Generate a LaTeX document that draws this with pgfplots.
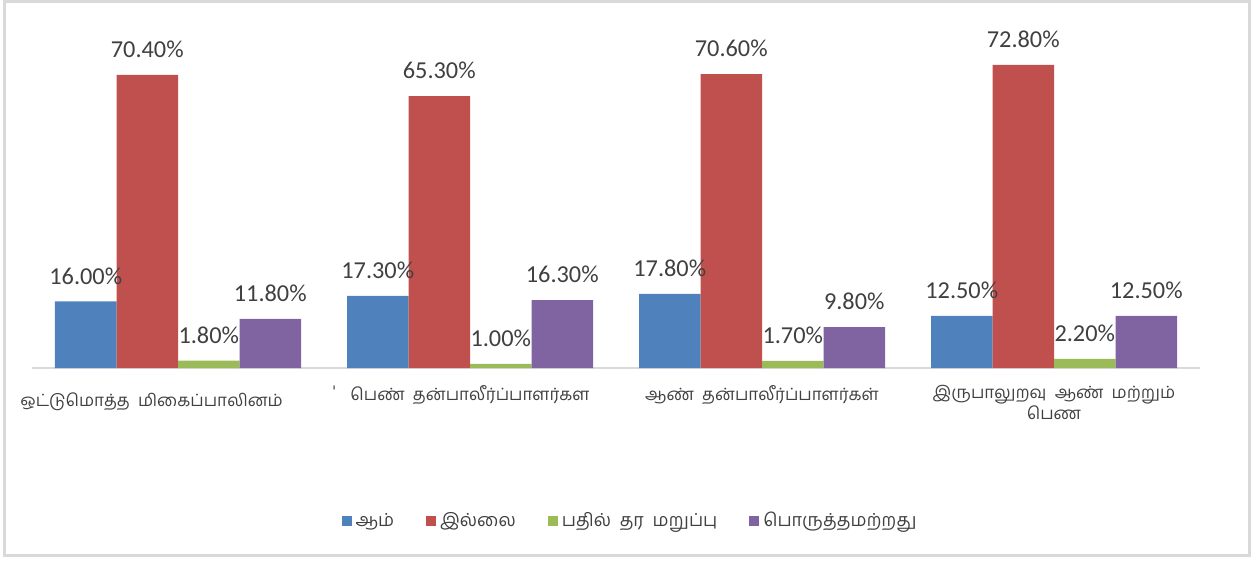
\documentclass[border=0pt]{standalone}
\usepackage{pgfplots}
\pgfplotsset{compat=1.18}
\usepackage{fontspec}
\setmainfont{Carlito}
\newfontfamily\tamil[Script=Tamil]{Hind Madurai}

\definecolor{cblue}{HTML}{4F81BD}
\definecolor{cred}{HTML}{C0504D}
\definecolor{cgreen}{HTML}{9BBB59}
\definecolor{cpurple}{HTML}{8064A2}
\definecolor{txt}{HTML}{404040}
\definecolor{frame}{HTML}{D9D9D9}

\begin{document}
\begin{tikzpicture}
% canvas and outer frame (1px = 0.5bp, origin at axis lower left)
\path (-16bp,-96.5bp) rectangle (613.5bp,184bp);
\draw[frame, line width=1.2bp] (-13.75bp,-93.75bp) rectangle (608.75bp,183.25bp);
\begin{axis}[
    at={(0,0)}, anchor=south west,
    scale only axis,
    width=584bp, height=166.5bp,
    ybar=0pt,
    bar width=30.75bp,
    xmin=-0.5, xmax=3.5,
    ymin=0, ymax=80,
    axis y line=none,
    axis x line*=bottom,
    x axis line style={frame, line width=1bp, -},
    xtick={0,1,2,3},
    xtick style={draw=none},
    xticklabels={%
        {ஒட்டுமொத்த\ \ மிகைப்பாலினம்\hspace{25bp}\raisebox{4.5bp}{'}},
        {பெண்\ \ தன்பாலீர்ப்பாளர்கள},
        {ஆண்\ \ தன்பாலீர்ப்பாளர்கள்},
        {இருபாலுறவு\ \ ஆண்\ \ மற்றும்\\பெண}},
    xticklabel style={font=\tamil\fontsize{8.5}{10.5}\selectfont, text=txt, align=center, yshift=-1bp},
    /pgf/number format/assume math mode=true,
    nodes near coords={\pgfmathprintnumber[fixed,fixed zerofill,precision=2]{\pgfplotspointmeta}\%},
    nodes near coords style={font=\fontsize{12.2}{13}\selectfont, text=txt, anchor=south, yshift=5bp},
    legend style={at={(299.5bp,-76.5bp)}, anchor=center, draw=none,
        font=\tamil\fontsize{9}{10}\selectfont, text=txt,
        legend columns=4, /tikz/every even column/.append style={column sep=14bp}},
    legend image code/.code={\fill[#1] (0bp,-2.5bp) rectangle (5bp,2.5bp);},
]
\addplot[fill=cblue, draw=none] coordinates {(0,16.0) (1,17.3) (2,17.8) (3,12.5)};
\addplot[fill=cred, draw=none] coordinates {(0,70.4) (1,65.3) (2,70.6) (3,72.8)};
\addplot[fill=cgreen, draw=none] coordinates {(0,1.8) (1,1.0) (2,1.7) (3,2.2)};
\addplot[fill=cpurple, draw=none] coordinates {(0,11.8) (1,16.3) (2,9.8) (3,12.5)};
\legend{ஆம், இல்லை, பதில்\ \ தர\ \ மறுப்பு, பொருத்தமற்றது}
\end{axis}
\end{tikzpicture}
\end{document}
